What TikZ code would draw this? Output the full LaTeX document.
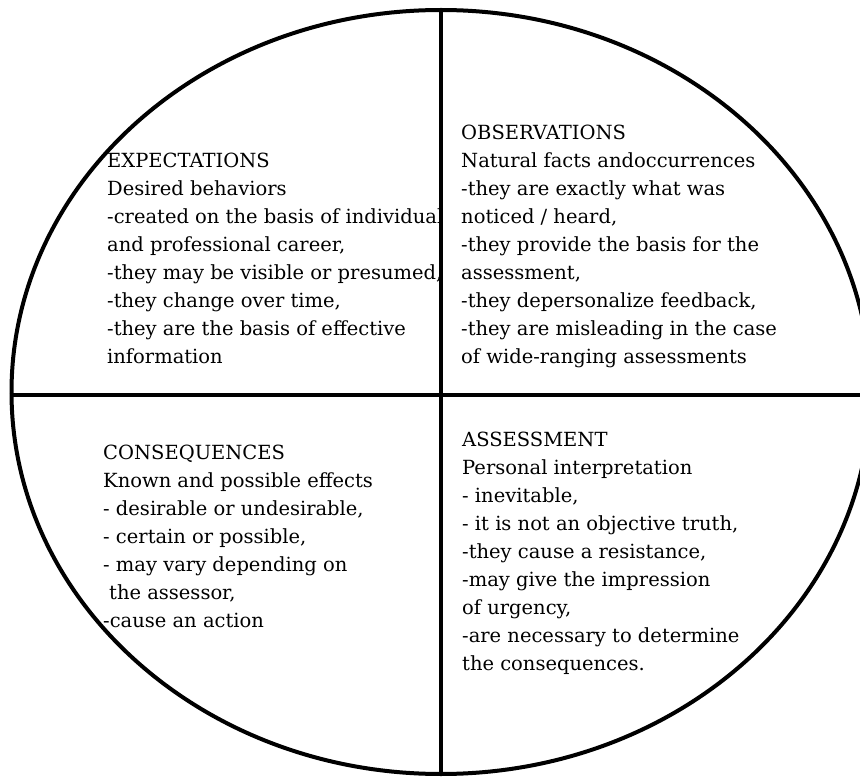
\documentclass[tikz,border=0pt]{standalone}
\usepackage{fontspec}
\setmainfont{DejaVu Serif}
\usetikzlibrary{shapes.geometric}
\begin{document}
\begin{tikzpicture}[x=1pt,y=-1pt,
  txt/.style={anchor=base west,inner sep=0pt,align=left,
    font=\fontsize{19.5}{28}\selectfont},
  rule/.style={line width=4.5pt}]
\useasboundingbox (0,0) rectangle (860,778);
\clip (0,0) rectangle (860,778);
% anchor: baseline of the last line of each block
\node[txt] (exp) at (107,363) {EXPECTATIONS\\Desired behaviors\\-created on the basis of individual\\and professional career,\\-they may be visible or presumed,\\-they change over time,\\-they are the basis of effective\\information};
\node[txt] (obs) at (461,363) {OBSERVATIONS\\Natural facts andoccurrences\\-they are exactly what was\\noticed / heard,\\-they provide the basis for the\\assessment,\\-they depersonalize feedback,\\-they are misleading in the case\\of wide-ranging assessments};
\node[txt] (con) at (103,627) {CONSEQUENCES\\Known and possible effects\\- desirable or undesirable,\\- certain or possible,\\- may vary depending on\\\hspace*{6pt}the assessor,\\-cause an action};
\node[txt] (ass) at (462,670) {ASSESSMENT\\Personal interpretation\\- inevitable,\\- it is not an objective truth,\\-they cause a resistance,\\-may give the impression\\of urgency,\\-are necessary to determine\\the consequences.};
\node[ellipse,draw,line width=4pt,inner sep=0pt,minimum width=859pt,minimum height=764pt] (circ) at (441,392) {};
\coordinate (hr) at (860,395);
\draw[rule] (circ.west |- hr) -- (hr);
\draw[rule] (circ.north) -- (circ.south);
\end{tikzpicture}
\end{document}
